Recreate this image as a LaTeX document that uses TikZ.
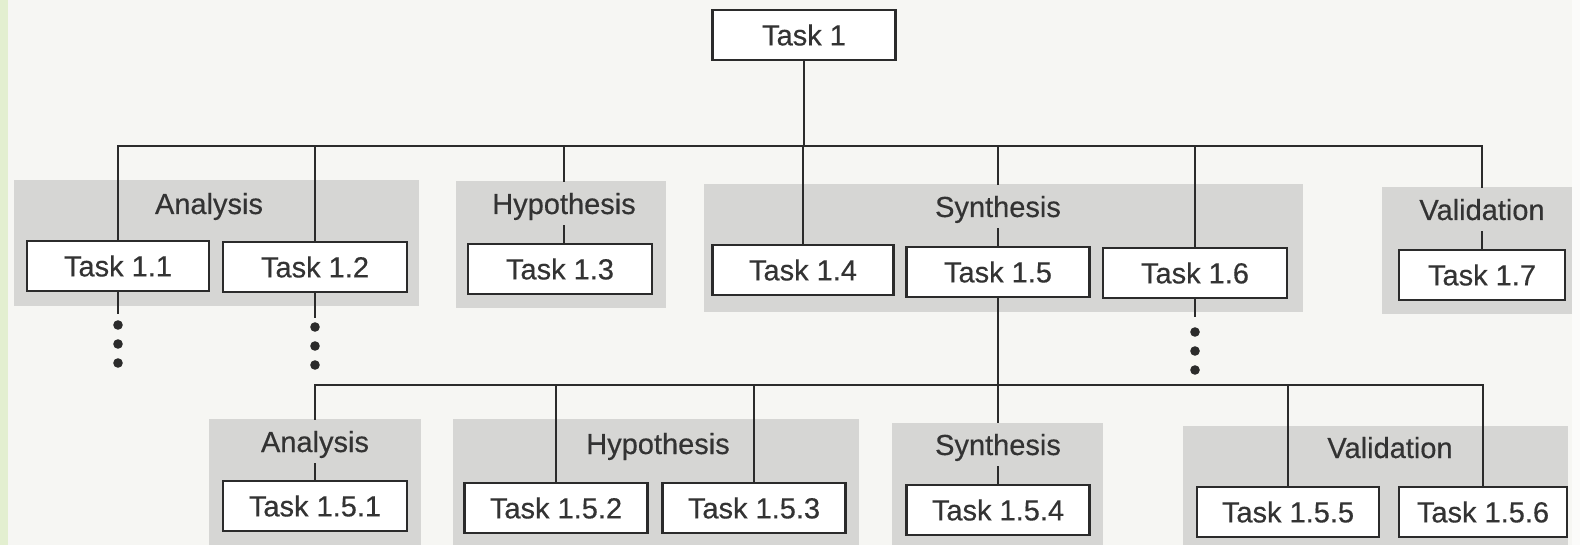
\documentclass[tikz,border=0pt]{standalone}
\usepackage{fontspec}
\setmainfont{Liberation Sans}[UprightFeatures={FakeBold=0.45}]
\definecolor{paper}{HTML}{F6F6F3}
\definecolor{edge}{HTML}{E3EFD0}
\definecolor{bandgray}{HTML}{D6D6D4}
\definecolor{ink}{HTML}{2B2B2B}
\definecolor{txt}{HTML}{333333}
\begin{document}
\begin{tikzpicture}[x=1pt,y=-1pt,
  every node/.style={font=\fontsize{29}{34}\selectfont},
  taskbox/.style={draw=ink, line width=2.2pt, fill=white, text=txt,
    minimum height=50pt, inner sep=0pt},
  phase/.style={text=txt, anchor=base, text height=21pt, text depth=0pt,
    inner ysep=11pt, inner xsep=2pt},
  link/.style={draw=ink, line width=1.8pt},
  band/.style={fill=bandgray},
  bullet/.style={fill=ink}]
\useasboundingbox (0,0) rectangle (1580,545);
% paper and scanned edge
\fill[paper] (0,0) rectangle (1580,545);
\fill[edge] (0,0) rectangle (8,545);
\fill[white!60!paper] (1572,0) rectangle (1580,545);

% phase bands, first level
\fill[band] (14,180) rectangle (419,306);
\fill[band] (456,181) rectangle (666,308);
\fill[band] (704,184) rectangle (1303,312);
\fill[band] (1382,187) rectangle (1572,314);
% phase bands, second level
\fill[band] (209,419) rectangle (421,545);
\fill[band] (453,419) rectangle (859,545);
\fill[band] (892,423) rectangle (1103,545);
\fill[band] (1183,426) rectangle (1568,545);

% phase labels
\node[phase] (An1)  at (209,214) {Analysis};
\node[phase] (Hyp1) at (564,214) {Hypothesis};
\node[phase] (Syn1) at (998,217) {Synthesis};
\node[phase] (Val1) at (1482,220) {Validation};
\node[phase] (An2)  at (315,452) {Analysis};
\node[phase] (Hyp2) at (658,454) {Hypothesis};
\node[phase] (Syn2) at (998,455) {Synthesis};
\node[phase] (Val2) at (1390,458) {Validation};

% tasks
\node[taskbox, minimum width=183pt] (T1)  at (804,35)  {Task 1};
\node[taskbox, minimum width=182pt] (T11) at (118,266) {Task 1.1};
\node[taskbox, minimum width=184pt] (T12) at (315,267) {Task 1.2};
\node[taskbox, minimum width=184pt] (T13) at (560,269) {Task 1.3};
\node[taskbox, minimum width=181pt] (T14) at (803,270) {Task 1.4};
\node[taskbox, minimum width=183pt] (T15) at (998,272) {Task 1.5};
\node[taskbox, minimum width=184pt] (T16) at (1195,273) {Task 1.6};
\node[taskbox, minimum width=166pt] (T17) at (1482,275) {Task 1.7};
\node[taskbox, minimum width=184pt] (T151) at (315,506) {Task 1.5.1};
\node[taskbox, minimum width=183pt] (T152) at (556,508) {Task 1.5.2};
\node[taskbox, minimum width=183pt] (T153) at (754,508) {Task 1.5.3};
\node[taskbox, minimum width=183pt] (T154) at (998,510) {Task 1.5.4};
\node[taskbox, minimum width=182pt] (T155) at (1288,512) {Task 1.5.5};
\node[taskbox, minimum width=168pt] (T156) at (1483,512) {Task 1.5.6};

% first level connectors
\coordinate (jA) at (804,146);
\draw[link] (T1.south) -- (jA);
\draw[link] (T11.north) |- (jA) -| (Val1.north);
\draw[link] (T12.north) -- (T12.north |- jA);
\draw[link] (Hyp1.north) -- (Hyp1.north |- jA);
\draw[link] (Hyp1.south) -- (Hyp1.south |- T13.north);
\draw[link] (T14.north) -- (T14.north |- jA);
\draw[link] (Syn1.north) -- (Syn1.north |- jA);
\draw[link] (Syn1.south) -- (T15.north);
\draw[link] (T16.north) -- (T16.north |- jA);
\draw[link] (Val1.south) -- (T17.north);

% second level connectors
\coordinate (jB) at (998,385);
\draw[link] (T15.south) -- (Syn2.north);
\draw[link] (An2.north) |- (jB) -| (T156.north);
\draw[link] (An2.south) -- (T151.north);
\draw[link] (T152.north) -- (T152.north |- jB);
\draw[link] (T153.north) -- (T153.north |- jB);
\draw[link] (Syn2.south) -- (T154.north);
\draw[link] (T155.north) -- (T155.north |- jB);

% elided subtrees
\coordinate (e11) at (118,314);
\coordinate (e12) at (315,318);
\coordinate (e16) at (1195,317);
\draw[link] (T11.south) -- (e11);
\draw[link] (T12.south) -- (e12);
\draw[link] (T16.south) -- (e16);
\foreach \y in {325,344,363} \fill[bullet] (118,\y) circle (4.8);
\foreach \y in {327,346,365} \fill[bullet] (315,\y) circle (4.8);
\foreach \y in {332,351,370} \fill[bullet] (1195,\y) circle (4.8);
\end{tikzpicture}
\end{document}
